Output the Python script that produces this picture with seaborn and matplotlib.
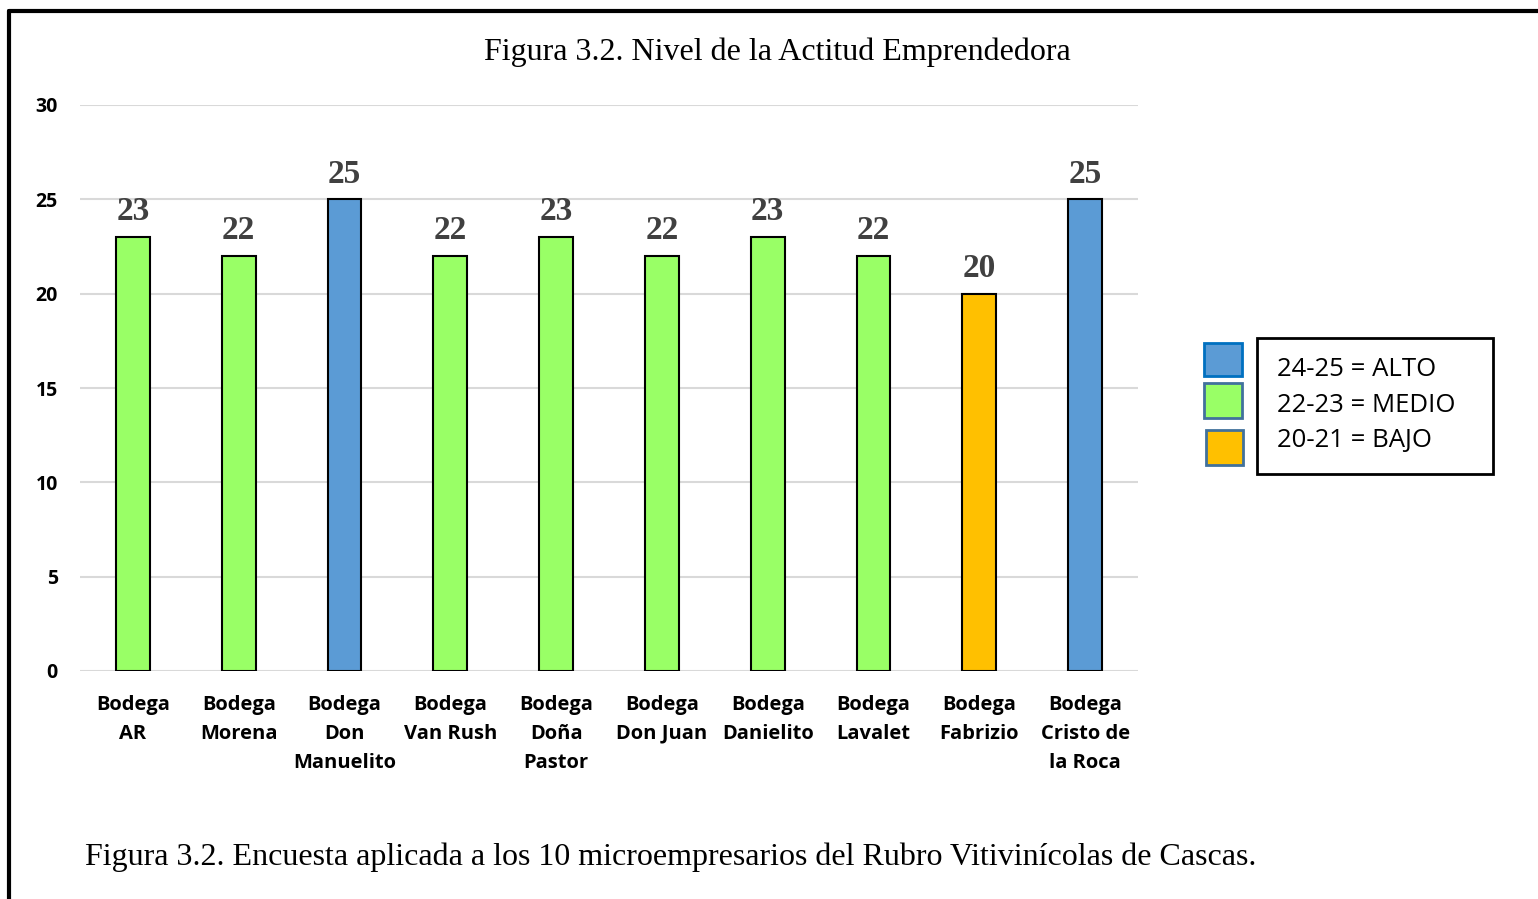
import matplotlib
matplotlib.use("Agg")
import matplotlib.pyplot as plt
from matplotlib.patches import Rectangle
from matplotlib.lines import Line2D
import seaborn as sns
import pandas as pd

categories = ["Bodega\nAR", "Bodega\nMorena", "Bodega\nDon\nManuelito", "Bodega\nVan Rush",
              "Bodega\nDoña\nPastor", "Bodega\nDon Juan", "Bodega\nDanielito", "Bodega\nLavalet",
              "Bodega\nFabrizio", "Bodega\nCristo de\nla Roca"]
values = [23, 22, 25, 22, 23, 22, 23, 22, 20, 25]
levels = ["MEDIO", "MEDIO", "ALTO", "MEDIO", "MEDIO", "MEDIO", "MEDIO", "MEDIO", "BAJO", "ALTO"]
legend_labels = ["24-25 = ALTO", "22-23 = MEDIO", "20-21 = BAJO"]
level_order = ["ALTO", "MEDIO", "BAJO"]
palette = {"ALTO": "#5B9BD5", "MEDIO": "#99FF66", "BAJO": "#FFC000"}
yticks = [0, 5, 10, 15, 20, 25, 30]

sns.set_theme(style="white")
plt.rcParams["font.family"] = ["Open Sans", "DejaVu Sans"]

df = pd.DataFrame({"cat": categories, "val": values, "lvl": levels})

fig = plt.figure(figsize=(15.38, 8.99), dpi=100)
ax = fig.add_axes([80/1538, 1-671/899, 1058/1538, (671-105)/899])

sns.barplot(data=df, x="cat", y="val", hue="lvl", palette=palette, dodge=False,
            width=0.32, legend=False, ax=ax, edgecolor="black", linewidth=1.5,
            order=categories, hue_order=level_order, saturation=1, zorder=3)

for c in ax.containers:
    ax.bar_label(c, padding=7, fontsize=24, fontweight="bold", color="#404040",
                 family="Liberation Serif")

ax.set_ylim(0, 30)
ax.set_xlim(-0.5, 9.5)
ax.set_yticks(yticks)
ax.set_yticklabels([str(t) for t in yticks], fontsize=14, fontweight="bold", color="black")
ax.tick_params(axis="y", length=0, pad=16)
ax.tick_params(axis="x", length=0, pad=17)
for lbl in ax.get_xticklabels():
    lbl.set_fontsize(14.5)
    lbl.set_fontweight("bold")
    lbl.set_color("black")
    lbl.set_linespacing(1.6)
    lbl.set_verticalalignment("top")
ax.set_xlabel("")
ax.set_ylabel("")
ax.grid(axis="y", color="#D9D9D9", linewidth=1.5, zorder=0)
ax.set_axisbelow(True)
for s in ax.spines.values():
    s.set_visible(False)

fig.text(777/1538, 1-52/899, "Figura 3.2. Nivel de la Actitud Emprendedora", ha="center", va="center",
         fontsize=23, family="Liberation Serif", color="black")
fig.text(85/1538, 1-857/899,
         "Figura 3.2. Encuesta aplicada a los 10 microempresarios del Rubro Vitivinícolas de Cascas.",
         ha="left", va="center", fontsize=23, family="Liberation Serif", color="black")

# outer frame (left and top edges visible)
fig.add_artist(Line2D([9/1538, 9/1538], [0, 1-11/899], transform=fig.transFigure, color="black", lw=3))
fig.add_artist(Line2D([9/1538, 1], [1-11/899, 1-11/899], transform=fig.transFigure, color="black", lw=3))

# legend
sq = [(1204, 343, 38, 33, "#0070C0"), (1204, 383, 38, 35, "#41719C"), (1206, 430, 37, 35, "#41719C")]
for (x, y, w, h, ec), lv in zip(sq, level_order):
    fig.add_artist(Rectangle((x/1538, 1-(y+h)/899), w/1538, h/899, transform=fig.transFigure,
                             facecolor=palette[lv], edgecolor=ec, lw=2))
fig.add_artist(Rectangle((1257/1538, 1-474/899), 236/1538, 136/899, transform=fig.transFigure,
                         facecolor="none", edgecolor="black", lw=2))
for i, t in enumerate(legend_labels):
    fig.text(1277/1538, 1-(369.5+35.5*i)/899, t, ha="left", va="center", fontsize=18.5,
             family=["Open Sans", "DejaVu Sans"], color="black")

fig.savefig("out.png", dpi=100)
